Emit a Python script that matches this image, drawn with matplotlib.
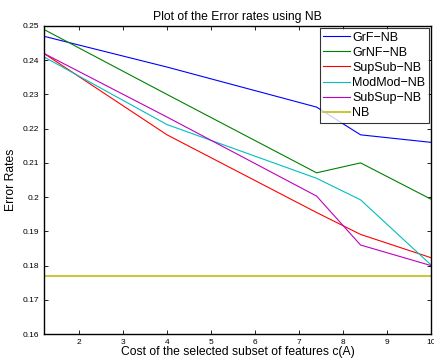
import matplotlib
matplotlib.use('Agg')
import matplotlib.pyplot as plt

plt.rcParams['font.family'] = ['Liberation Sans', 'DejaVu Sans']

cost = [1.2, 4.0, 7.4, 8.4, 10.0]
grf_nb = [0.247, 0.238, 0.2263, 0.2182, 0.216]
grnf_nb = [0.249, 0.230, 0.2071, 0.210, 0.1994]
supsub_nb = [0.242, 0.2182, 0.1955, 0.1891, 0.1823]
modmod_nb = [0.241, 0.2212, 0.2055, 0.1992, 0.1802]
subsup_nb = [0.242, 0.2234, 0.2003, 0.186, 0.180]
nb = [0.177, 0.177, 0.177, 0.177, 0.177]

series = [
    ('GrF\u2212NB', grf_nb, (0, 0, 1)),
    ('GrNF\u2212NB', grnf_nb, (0, 0.5, 0)),
    ('SupSub\u2212NB', supsub_nb, (1, 0, 0)),
    ('ModMod\u2212NB', modmod_nb, (0, 0.75, 0.75)),
    ('SubSup\u2212NB', subsup_nb, (0.75, 0, 0.75)),
]

xticks = [2, 3, 4, 5, 6, 7, 8, 9, 10]
yticks = [0.16, 0.17, 0.18, 0.19, 0.2, 0.21, 0.22, 0.23, 0.24, 0.25]
ytick_labels = ['0.16', '0.17', '0.18', '0.19', '0.2', '0.21', '0.22', '0.23', '0.24', '0.25']

fig = plt.figure(figsize=(4.34, 3.59), dpi=100)
ax = fig.add_axes([0.101, 0.0696, 0.892, 0.858])

for name, vals, col in series:
    ax.plot(cost, vals, color=col, linewidth=0.8, label=name)
ax.plot(cost, nb, color=(0.78, 0.78, 0.2), linewidth=1.4, label='NB')

ax.set_xlim(1.2, 10)
ax.set_ylim(0.16, 0.25)
ax.set_xticks(xticks)
ax.set_xticklabels([str(t) for t in xticks])
ax.set_yticks(yticks)
ax.set_yticklabels(ytick_labels)
ax.tick_params(direction='in', top=True, right=True, labelsize=6, length=3, width=0.6)
for sp in ax.spines.values():
    sp.set_linewidth(1.0)

ax.set_title('Plot of the Error rates using NB', fontsize=8.7, pad=4)
ax.set_xlabel('Cost of the selected subset of features c(A)', fontsize=8.7, labelpad=0)
ax.set_ylabel('Error Rates', fontsize=8.7, labelpad=4)

leg = ax.legend(loc='upper right', fontsize=9, frameon=True, fancybox=False,
                edgecolor='black', handlelength=2.1, handletextpad=0.2,
                labelspacing=0.25, borderpad=0.3, borderaxespad=0.15)
leg.get_frame().set_linewidth(0.8)

fig.savefig('out.png', dpi=100)
